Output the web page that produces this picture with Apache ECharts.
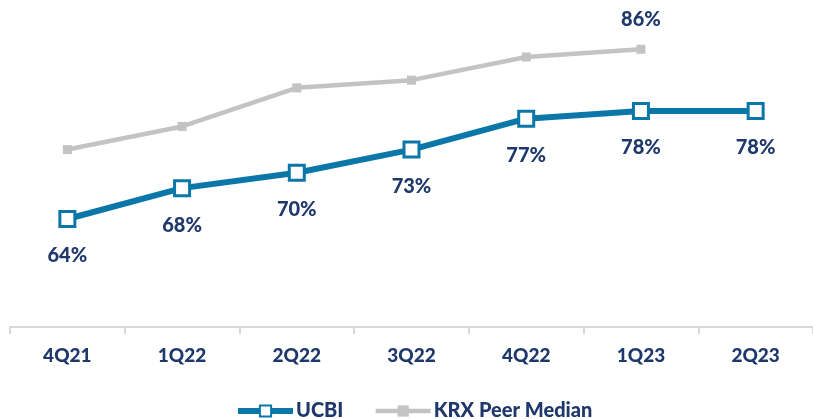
<!DOCTYPE html>
<html>
<head>
<meta charset="utf-8">
<script src="https://cdn.jsdelivr.net/npm/echarts@6/dist/echarts.min.js"></script>
<style>
  html, body { margin: 0; padding: 0; background: #fff; }
  #chart { width: 813px; height: 419px; }
</style>
</head>
<body>
<div id="chart"></div>
<script>
// quarters on the x axis
var quarters = ['4Q21', '1Q22', '2Q22', '3Q22', '4Q22', '1Q23', '2Q23'];
// UCBI values (%)
var ucbiValues = [64, 68, 70, 73, 77, 78, 78];
// KRX peer median (%) - no value for 2Q23
var peerValues = [73, 76, 81, 82, 85, 86, null];

var navy = '#1f386b';
var blue = '#0a77a8';
var grey = '#c3c3c3';
var font = 'Lato';

var chart = echarts.init(document.getElementById('chart'));

// only the last peer point gets a label
var peerData = peerValues.map(function (v, i) {
    if (i === 5) {
        return { value: v, label: { show: true } };
    }
    return v;
});

chart.setOption({
    animation: false,
    grid: { left: 10, right: -2, top: 3, bottom: 92, containLabel: false },
    xAxis: {
        type: 'category',
        data: quarters,
        boundaryGap: true,
        axisLine: { show: true, lineStyle: { color: '#d9d9d9', width: 2 } },
        axisTick: { show: true, length: 7, lineStyle: { color: '#d9d9d9', width: 2 } },
        axisLabel: {
            color: navy, fontFamily: font, fontWeight: 900, fontSize: 19, margin: 19
        }
    },
    yAxis: {
        type: 'value',
        min: 50,
        max: 92,
        show: false,
        splitLine: { show: false }
    },
    legend: {
        top: 396,
        left: 230,
        itemWidth: 55,
        itemHeight: 14,
        itemGap: 30,
        textStyle: { color: navy, fontFamily: font, fontWeight: 900, fontSize: 20, padding: [0, 0, 0, -2] },
        data: [
            { name: 'UCBI', lineStyle: { width: 6 } },
            { name: 'KRX Peer Median', lineStyle: { width: 4.5 } }
        ]
    },
    series: [
        {
            name: 'KRX Peer Median',
            type: 'line',
            data: peerData,
            symbol: 'rect',
            symbolSize: 9,
            itemStyle: { color: grey },
            lineStyle: { color: grey, width: 4.5 },
            label: {
                show: false,
                position: 'top',
                distance: 15,
                color: navy, fontFamily: font, fontWeight: 900, fontSize: 20,
                formatter: '{c}%'
            },
            z: 1
        },
        {
            name: 'UCBI',
            type: 'line',
            data: ucbiValues,
            symbol: 'rect',
            symbolSize: 15,
            itemStyle: { color: '#ffffff', borderColor: blue, borderWidth: 3 },
            lineStyle: { color: blue, width: 6 },
            label: {
                show: true,
                position: 'bottom',
                distance: 18,
                color: navy, fontFamily: font, fontWeight: 900, fontSize: 20,
                formatter: '{c}%'
            },
            z: 2
        }
    ]
});
</script>
</body>
</html>
